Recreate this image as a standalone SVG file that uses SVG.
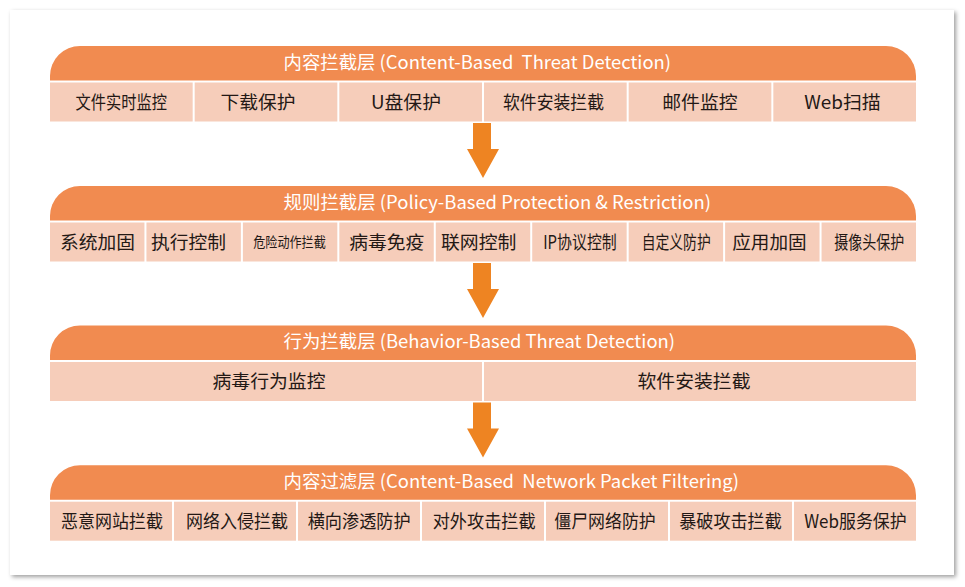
<svg xmlns="http://www.w3.org/2000/svg" width="965" height="587" viewBox="0 0 965 587">
<defs>
<filter id="sh" x="-5%" y="-5%" width="110%" height="110%">
<feDropShadow dx="2" dy="2" stdDeviation="2" flood-color="#000" flood-opacity="0.38"/>
</filter>
<style>
.hd{fill:#F18B50}
.cl{fill:#F6CDBA}
.ht{fill:#fff;font-family:"Noto Sans CJK SC","Noto Sans",sans-serif;font-size:18px;white-space:pre}
.ct{fill:#231815;font-family:"Noto Sans CJK SC","Noto Sans",sans-serif;font-size:18.5px;text-anchor:middle}
.sm{font-size:14px}
.ar{fill:#EE8422}
</style>
</defs>
<rect x="10" y="10" width="944" height="565" fill="#fff" filter="url(#sh)"/>

<!-- Layer 1 -->
<g id="layer1">
<g id="l1-header"><path class="hd" d="M50,80.5V76A30,30 0 0 1 80,46H886A30,30 0 0 1 916,76V80.5Z"/>
<text class="ht" xml:space="preserve" x="283.5" y="68.5" textLength="387.5" lengthAdjust="spacingAndGlyphs">内容拦截层 (Content-Based  Threat Detection)</text></g>
<g id="l1-c1"><rect class="cl" x="50" y="82.5" width="142.67" height="39"/><text class="ct" x="121.33" y="108.5" textLength="91.5" lengthAdjust="spacingAndGlyphs">文件实时监控</text></g>
<g id="l1-c2"><rect class="cl" x="194.67" y="82.5" width="142.67" height="39"/><text class="ct" x="258" y="108.5" textLength="75" lengthAdjust="spacingAndGlyphs">下载保护</text></g>
<g id="l1-c3"><rect class="cl" x="339.33" y="82.5" width="142.67" height="39"/><text class="ct" x="406" y="108.5" textLength="70" lengthAdjust="spacingAndGlyphs">U盘保护</text></g>
<g id="l1-c4"><rect class="cl" x="484" y="82.5" width="142.67" height="39"/><text class="ct" x="553.5" y="108.5" textLength="101" lengthAdjust="spacingAndGlyphs">软件安装拦截</text></g>
<g id="l1-c5"><rect class="cl" x="628.67" y="82.5" width="142.67" height="39"/><text class="ct" x="700" y="108.5" textLength="75.5" lengthAdjust="spacingAndGlyphs">邮件监控</text></g>
<g id="l1-c6"><rect class="cl" x="773.33" y="82.5" width="142.67" height="39"/><text class="ct" x="842.5" y="108.5" textLength="76.5" lengthAdjust="spacingAndGlyphs">Web扫描</text></g>
</g>

<!-- Layer 2 -->
<g id="layer2">
<g id="l2-header"><path class="hd" d="M50,220.5V216A30,30 0 0 1 80,186H886A30,30 0 0 1 916,216V220.5Z"/>
<text class="ht" x="283.5" y="208.5" textLength="427.5" lengthAdjust="spacingAndGlyphs">规则拦截层 (Policy-Based Protection &amp; Restriction)</text></g>
<g id="l2-c1"><rect class="cl" x="50" y="222.5" width="94.44" height="39"/><text class="ct" x="97.5" y="248.5" textLength="75" lengthAdjust="spacingAndGlyphs">系统加固</text></g>
<g id="l2-c2"><rect class="cl" x="146.44" y="222.5" width="94.44" height="39"/><text class="ct" x="188.5" y="248.5" textLength="75" lengthAdjust="spacingAndGlyphs">执行控制</text></g>
<g id="l2-c3"><rect class="cl" x="242.89" y="222.5" width="94.44" height="39"/><text class="ct sm" x="289.5" y="247" textLength="72.5" lengthAdjust="spacingAndGlyphs">危险动作拦截</text></g>
<g id="l2-c4"><rect class="cl" x="339.33" y="222.5" width="94.44" height="39"/><text class="ct" x="386.7" y="248.5" textLength="75" lengthAdjust="spacingAndGlyphs">病毒免疫</text></g>
<g id="l2-c5"><rect class="cl" x="435.78" y="222.5" width="94.44" height="39"/><text class="ct" x="478.7" y="248.5" textLength="75.5" lengthAdjust="spacingAndGlyphs">联网控制</text></g>
<g id="l2-c6"><rect class="cl" x="532.22" y="222.5" width="94.44" height="39"/><text class="ct" x="580" y="248.5" textLength="73.5" lengthAdjust="spacingAndGlyphs">IP协议控制</text></g>
<g id="l2-c7"><rect class="cl" x="628.67" y="222.5" width="94.44" height="39"/><text class="ct" x="676.2" y="248.5" textLength="69" lengthAdjust="spacingAndGlyphs">自定义防护</text></g>
<g id="l2-c8"><rect class="cl" x="725.11" y="222.5" width="94.44" height="39"/><text class="ct" x="769.5" y="248.5" textLength="74.5" lengthAdjust="spacingAndGlyphs">应用加固</text></g>
<g id="l2-c9"><rect class="cl" x="821.56" y="222.5" width="94.44" height="39"/><text class="ct" x="869.2" y="248.5" textLength="70" lengthAdjust="spacingAndGlyphs">摄像头保护</text></g>
</g>

<!-- Layer 3 -->
<g id="layer3">
<g id="l3-header"><path class="hd" d="M50,360V355.5A30,30 0 0 1 80,325.5H886A30,30 0 0 1 916,355.5V360Z"/>
<text class="ht" x="283.5" y="348" textLength="391.5" lengthAdjust="spacingAndGlyphs">行为拦截层 (Behavior-Based Threat Detection)</text></g>
<g id="l3-c1"><rect class="cl" x="50" y="362" width="432" height="39"/><text class="ct" x="269" y="388" textLength="113" lengthAdjust="spacingAndGlyphs">病毒行为监控</text></g>
<g id="l3-c2"><rect class="cl" x="484" y="362" width="432" height="39"/><text class="ct" x="694" y="388" textLength="113" lengthAdjust="spacingAndGlyphs">软件安装拦截</text></g>
</g>

<!-- Layer 4 -->
<g id="layer4">
<g id="l4-header"><path class="hd" d="M50,499.7V495.2A30,30 0 0 1 80,465.2H886A30,30 0 0 1 916,495.2V499.7Z"/>
<text class="ht" xml:space="preserve" x="283.5" y="487.7" textLength="455.5" lengthAdjust="spacingAndGlyphs">内容过滤层 (Content-Based  Network Packet Filtering)</text></g>
<g id="l4-c1"><rect class="cl" x="50" y="501.7" width="122" height="39"/><text class="ct" x="112" y="527.7" textLength="102" lengthAdjust="spacingAndGlyphs">恶意网站拦截</text></g>
<g id="l4-c2"><rect class="cl" x="174" y="501.7" width="122" height="39"/><text class="ct" x="237" y="527.7" textLength="102" lengthAdjust="spacingAndGlyphs">网络入侵拦截</text></g>
<g id="l4-c3"><rect class="cl" x="298" y="501.7" width="122" height="39"/><text class="ct" x="359.2" y="527.7" textLength="103" lengthAdjust="spacingAndGlyphs">横向渗透防护</text></g>
<g id="l4-c4"><rect class="cl" x="422" y="501.7" width="122" height="39"/><text class="ct" x="484.2" y="527.7" textLength="103" lengthAdjust="spacingAndGlyphs">对外攻击拦截</text></g>
<g id="l4-c5"><rect class="cl" x="546" y="501.7" width="122" height="39"/><text class="ct" x="605" y="527.7" textLength="101.5" lengthAdjust="spacingAndGlyphs">僵尸网络防护</text></g>
<g id="l4-c6"><rect class="cl" x="670" y="501.7" width="122" height="39"/><text class="ct" x="730.5" y="527.7" textLength="102.5" lengthAdjust="spacingAndGlyphs">暴破攻击拦截</text></g>
<g id="l4-c7"><rect class="cl" x="794" y="501.7" width="122" height="39"/><text class="ct" x="855.5" y="527.7" textLength="102.5" lengthAdjust="spacingAndGlyphs">Web服务保护</text></g>
</g>

<g id="connectors">
<polygon class="ar" points="473,123 491,123 491,149 499,149 483,178 467,149 473,149"/>
<polygon class="ar" points="473,263 491,263 491,289 499,289 483,318 467,289 473,289"/>
<polygon class="ar" points="473,402.5 491,402.5 491,428.5 499,428.5 483,457.5 467,428.5 473,428.5"/>
</g>
</svg>
